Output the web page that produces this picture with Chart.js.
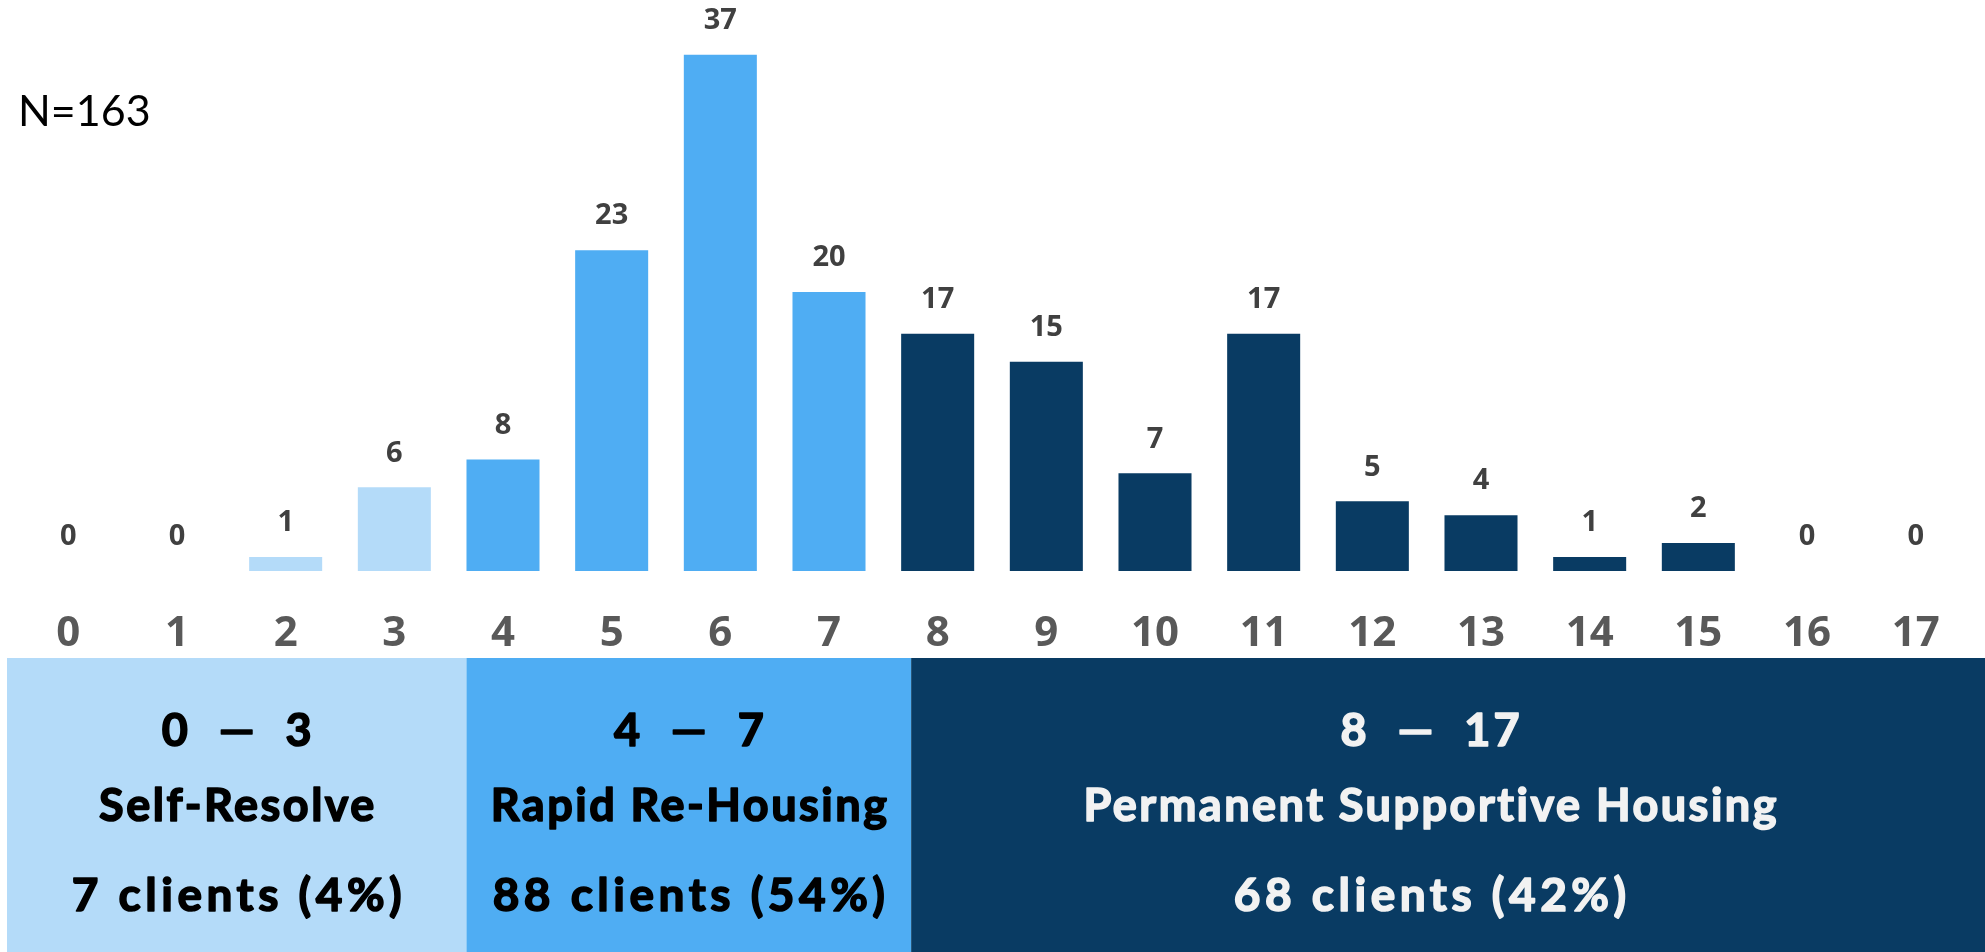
<!DOCTYPE html>
<html>
<head>
<meta charset="utf-8">
<script src="https://cdn.jsdelivr.net/npm/chart.js@4"></script>
<style>
  html, body { margin: 0; padding: 0; background: #fff; }
  #wrap { width: 1985px; height: 952px; }
</style>
</head>
<body>
<div id="wrap"><canvas id="scoreChart"></canvas></div>
<script>
// score categories and client counts
const scores = ['0','1','2','3','4','5','6','7','8','9','10','11','12','13','14','15','16','17'];
const clients = [0, 0, 1, 6, 8, 23, 37, 20, 17, 15, 7, 17, 5, 4, 1, 2, 0, 0];

// score groups
const groupFirst = [0, 4, 8];
const groupLast = [3, 7, 17];
const groupNames = ['Self-Resolve', 'Rapid Re-Housing', 'Permanent Supportive Housing'];
const groupClients = ['7 clients (4%)', '88 clients (54%)', '68 clients (42%)'];
const totalLabel = 'N=163';

const colors = {
    light: '#b4dbf9',   // self-resolve
    medium: '#4fadf3',  // rapid re-housing
    dark: '#093b63'     // permanent supportive
};
const groupColors = [colors.light, colors.medium, colors.dark];
const groupText = ['#000000', '#000000', '#f2f2f2'];

function colorFor(i) {
    for (let g = 0; g < groupFirst.length; g++) {
        if (i >= groupFirst[g] && i <= groupLast[g]) return groupColors[g];
    }
    return colors.dark;
}

// centred heavy text: letter spacing + thin stroke to fake a heavier weight
function heavyText(ctx, text, cx, cy, font, spacing) {
    ctx.font = font;
    ctx.letterSpacing = spacing + 'px';
    ctx.lineWidth = 1.6;
    ctx.lineJoin = 'round';
    ctx.fillText(text, cx + spacing / 2, cy);
    ctx.strokeText(text, cx + spacing / 2, cy);
    ctx.letterSpacing = '0px';
}

// value labels above bars
const valueLabels = {
    id: 'valueLabels',
    afterDatasetsDraw(chart) {
        const ctx = chart.ctx;
        const meta = chart.getDatasetMeta(0);
        ctx.save();
        ctx.font = 'bold 29px "Open Sans"';
        ctx.fillStyle = '#404040';
        ctx.textAlign = 'center';
        ctx.textBaseline = 'middle';
        meta.data.forEach((bar, i) => {
            ctx.fillText(String(clients[i]), bar.x, bar.y - 34);
        });
        ctx.restore();
    }
};

// coloured group boxes under the axis + N label
const groupBoxes = {
    id: 'groupBoxes',
    afterDraw(chart) {
        const ctx = chart.ctx;
        const x = chart.scales.x;
        const half = chart.getDatasetMeta(0).data[0].width / 2;
        const top = 658, bottom = chart.height;
        const edges = [
            chart.chartArea.left - 7,
            x.getPixelForValue(groupFirst[1]) - half,
            x.getPixelForValue(groupFirst[2]) - half + 10,
            chart.width
        ];
        const textCenter = [null, null, 1430];
        ctx.save();
        for (let g = 0; g < 3; g++) {
            ctx.fillStyle = groupColors[g];
            ctx.fillRect(edges[g], top, edges[g + 1] - edges[g], bottom - top);

            const cx = textCenter[g] || (edges[g] + edges[g + 1]) / 2;
            ctx.fillStyle = groupText[g];
            ctx.strokeStyle = groupText[g];
            ctx.textAlign = 'center';
            ctx.textBaseline = 'middle';
            heavyText(ctx, groupFirst[g] + '  \u2014  ' + groupLast[g], cx, top + 73, 'bold 45px Lato', 3);
            heavyText(ctx, groupNames[g], cx, top + 148, 'bold 45px Lato', 2.5);
            heavyText(ctx, groupClients[g], cx, top + 238, 'bold 46px Lato', 4.5);
        }
        ctx.font = '43px Lato';
        ctx.fillStyle = '#000000';
        ctx.textAlign = 'left';
        ctx.textBaseline = 'alphabetic';
        ctx.fillText(totalLabel, 18, 126);
        ctx.restore();
    }
};

const chartCtx = document.getElementById('scoreChart').getContext('2d');
const scoreChart = new Chart(chartCtx, {
    type: 'bar',
    data: {
        labels: scores,
        datasets: [{
            data: clients,
            backgroundColor: clients.map((v, i) => colorFor(i)),
            borderWidth: 0,
            categoryPercentage: 1,
            barPercentage: 0.672
        }]
    },
    options: {
        responsive: true,
        maintainAspectRatio: false,
        animation: false,
        layout: {
            padding: { top: 13, left: 14, right: 15, bottom: 0 }
        },
        plugins: {
            legend: { display: false },
            tooltip: { enabled: false }
        },
        scales: {
            y: {
                display: false,
                min: 0,
                max: 40
            },
            x: {
                grid: { display: false, drawTicks: false },
                border: { display: false },
                ticks: {
                    color: '#595959',
                    font: { family: '"Open Sans"', size: 42, weight: 'bold' },
                    padding: 38,
                    maxRotation: 0,
                    autoSkip: false
                },
                afterFit(scale) {
                    scale.height = 381;
                }
            }
        }
    },
    plugins: [valueLabels, groupBoxes]
});
</script>
</body>
</html>
